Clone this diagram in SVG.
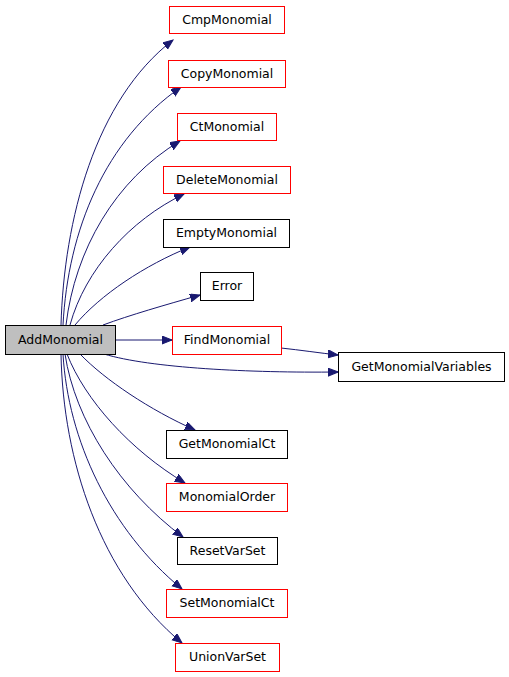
<svg xmlns="http://www.w3.org/2000/svg" width="509" height="677" viewBox="0 0 509 677">
<defs>
<marker id="ah" markerUnits="userSpaceOnUse" markerWidth="11" markerHeight="9" refX="10" refY="4" orient="auto">
<path d="M0,0 L10,4 L0,8 z" fill="#191970" stroke="#191970" stroke-width="1"/>
</marker>
<style>
.n rect{fill:#fff;stroke-width:1}
.r rect{stroke:#ff0000}
.b rect{stroke:#000}
.n text{font-family:"DejaVu Sans",sans-serif;font-size:12.5px;text-anchor:middle;fill:#000}
.e path{fill:none;stroke:#191970;stroke-width:1;marker-end:url(#ah)}
</style>
</defs>
<rect width="509" height="677" fill="#fff"/>
<g id="edges" class="e">
<path d="M61,325 C64,220 95,100 173,40"/>
<path d="M63,325 C68,230 105,140 181,87"/>
<path d="M66,325 C75,250 115,180 180,141"/>
<path d="M70,325 C85,270 130,220 184,194"/>
<path d="M75,325 C100,295 145,265 190,247"/>
<path d="M103,325 C130,315 165,305 200,295"/>
<path d="M115,340 L172,340"/>
<path d="M104,354 C150,368 250,373 338,372"/>
<path d="M281,348 C300,350 320,353 338,355"/>
<path d="M80,354 C105,380 150,410 195,430"/>
<path d="M67,354 C85,400 130,450 185,483"/>
<path d="M65,354 C75,420 120,490 183,537"/>
<path d="M63,354 C68,440 110,530 182,589"/>
<path d="M61,354 C63,460 100,575 182,643"/>
</g>
<g id="AddMonomial" class="n b"><rect x="5.5" y="325.5" width="110" height="29" style="fill:#bfbfbf"/><text x="60.5" y="343.5">AddMonomial</text></g>
<g id="CmpMonomial" class="n r"><rect x="169.5" y="6.5" width="115" height="27"/><text x="227" y="23.5">CmpMonomial</text></g>
<g id="CopyMonomial" class="n r"><rect x="168.5" y="60.5" width="117" height="27"/><text x="227" y="77.5">CopyMonomial</text></g>
<g id="CtMonomial" class="n r"><rect x="177.5" y="113.5" width="99" height="27"/><text x="227" y="130.5">CtMonomial</text></g>
<g id="DeleteMonomial" class="n r"><rect x="163.5" y="166.5" width="127" height="27"/><text x="227" y="183.5">DeleteMonomial</text></g>
<g id="EmptyMonomial" class="n b"><rect x="163.5" y="219.5" width="126" height="28"/><text x="226.5" y="237">EmptyMonomial</text></g>
<g id="Error" class="n b"><rect x="200.5" y="272.5" width="53" height="28"/><text x="227" y="290">Error</text></g>
<g id="FindMonomial" class="n r"><rect x="172.5" y="326.5" width="109" height="28"/><text x="227" y="344">FindMonomial</text></g>
<g id="GetMonomialVariables" class="n b"><rect x="338.5" y="352.5" width="166" height="29"/><text x="421.5" y="370.5">GetMonomialVariables</text></g>
<g id="GetMonomialCt" class="n b"><rect x="166.5" y="430.5" width="121" height="28"/><text x="227" y="448">GetMonomialCt</text></g>
<g id="MonomialOrder" class="n r"><rect x="166.5" y="483.5" width="121" height="28"/><text x="227" y="501">MonomialOrder</text></g>
<g id="ResetVarSet" class="n b"><rect x="177.5" y="537.5" width="100" height="27"/><text x="227.5" y="554.5">ResetVarSet</text></g>
<g id="SetMonomialCt" class="n r"><rect x="166.5" y="589.5" width="121" height="28"/><text x="227" y="607">SetMonomialCt</text></g>
<g id="UnionVarSet" class="n r"><rect x="175.5" y="643.5" width="104" height="28"/><text x="227.5" y="661">UnionVarSet</text></g>
</svg>
